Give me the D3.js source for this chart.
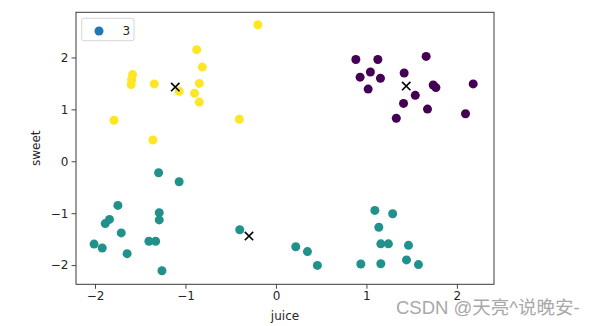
<!DOCTYPE html>
<html><head><meta charset="utf-8">
<script src="https://cdn.jsdelivr.net/npm/d3@7"></script>
<style>body{margin:0;background:#fff;} svg{display:block;}</style>
</head><body>
<svg id="chart" width="599" height="326"></svg>
<script>
// cluster 0 (purple)
const c0x=[0.883,1.126,1.66,1.044,0.93,1.155,1.417,1.019,1.738,1.768,2.18,1.54,1.41,1.675,1.33,2.095];
const c0y=[1.96,1.96,2.02,1.72,1.62,1.60,1.70,1.39,1.47,1.42,1.49,1.27,1.115,1.006,0.83,0.915];
// cluster 1 (teal)
const c1x=[-1.297,-1.07,-1.747,-1.29,-1.29,-1.84,-1.887,-1.71,-1.404,-1.33,-2.01,-1.92,-1.645,-1.26,-0.40,0.219,0.348,0.458,1.093,1.29,1.137,1.159,1.243,1.465,1.443,0.938,1.159,1.575];
const c1y=[-0.22,-0.395,-0.85,-0.99,-1.13,-1.12,-1.20,-1.38,-1.54,-1.54,-1.595,-1.67,-1.78,-2.11,-1.32,-1.647,-1.74,-2.006,-0.946,-1.01,-1.27,-1.59,-1.59,-1.62,-1.90,-1.98,-1.975,-1.99];
// cluster 2 (yellow)
const c2x=[-0.20,-0.876,-0.814,-1.585,-1.595,-1.60,-1.345,-1.07,-0.847,-0.90,-0.847,-1.79,-0.405,-1.36];
const c2y=[2.63,2.15,1.815,1.67,1.57,1.48,1.49,1.35,1.50,1.31,1.14,0.79,0.81,0.41];
// centroids
const cenX=[1.44,-0.298,-1.113];
const cenY=[1.45,-1.44,1.43];
const clusterColors=["#440154","#21918c","#fde725"];
const xTicks=[-2,-1,0,1,2];
const yTicks=[-2,-1,0,1,2];
const legendLabel="3";

const svg=d3.select("#chart");
const L=76,R=494,T=12.3,B=284.3;
const x=d3.scaleLinear().domain([-2.21,2.41]).range([L,R]);
const y=d3.scaleLinear().domain([-2.37,2.87]).range([B,T]);
const fmt=d=>d<0?"\u2212"+Math.abs(d):String(d);
const font="DejaVu Sans, sans-serif";

const pts=[];
[[c0x,c0y],[c1x,c1y],[c2x,c2y]].forEach(([xs,ys],k)=>xs.forEach((v,i)=>pts.push({x:v,y:ys[i],k})));

svg.append("g").selectAll("circle").data(pts).join("circle")
  .attr("cx",d=>x(d.x)).attr("cy",d=>y(d.y)).attr("r",4.5)
  .attr("fill",d=>clusterColors[d.k]);

const cg=svg.append("g");
cenX.forEach((cx,i)=>{
  const px=x(cx),py=y(cenY[i]),s=4.2;
  cg.append("path").attr("d",`M${px-s},${py-s}L${px+s},${py+s}M${px-s},${py+s}L${px+s},${py-s}`)
    .attr("stroke","#000").attr("stroke-width",1.6).attr("fill","none");
});

// axes
const xa=svg.append("g").attr("transform",`translate(0,${B})`)
  .call(d3.axisBottom(x).tickValues(xTicks).tickFormat(fmt).tickSize(4.5).tickPadding(3));
const ya=svg.append("g").attr("transform",`translate(${L},0)`)
  .call(d3.axisLeft(y).tickValues(yTicks).tickFormat(fmt).tickSize(4.5).tickPadding(3));
[xa,ya].forEach(a=>{a.select(".domain").remove();
  a.selectAll("text").attr("font-family",font).attr("font-size",12).attr("fill","#262626");
  a.selectAll("line").attr("stroke","#333").attr("stroke-width",0.9);});
svg.append("rect").attr("x",L).attr("y",T).attr("width",R-L).attr("height",B-T)
  .attr("fill","none").attr("stroke","#3a3a3a").attr("stroke-width",1);

svg.append("text").attr("x",(L+R)/2).attr("y",320).attr("text-anchor","middle")
  .attr("font-family",font).attr("font-size",12).attr("fill","#262626").text("juice");
svg.append("text").attr("transform",`translate(40,${(T+B)/2}) rotate(-90)`).attr("text-anchor","middle")
  .attr("font-family",font).attr("font-size",12).attr("fill","#262626").text("sweet");

// legend
svg.append("rect").attr("x",81.7).attr("y",18.3).attr("width",52.3).attr("height",22.4).attr("rx",2)
  .attr("fill","#fff").attr("fill-opacity",0.8).attr("stroke","#d5d5d5").attr("stroke-width",1);
svg.append("circle").attr("cx",99).attr("cy",31).attr("r",4.5).attr("fill","#1f77b4");
svg.append("text").attr("x",122.5).attr("y",35.2).attr("font-family",font).attr("font-size",12)
  .attr("fill","#262626").text(legendLabel);

// watermark
svg.append("text").attr("x",396).attr("y",313.5).attr("font-family","Liberation Sans, Noto Sans CJK SC, sans-serif")
  .attr("font-size",18.5).attr("fill","#a8a8a8").text("CSDN @天亮^说晚安-");
</script>
</body></html>
